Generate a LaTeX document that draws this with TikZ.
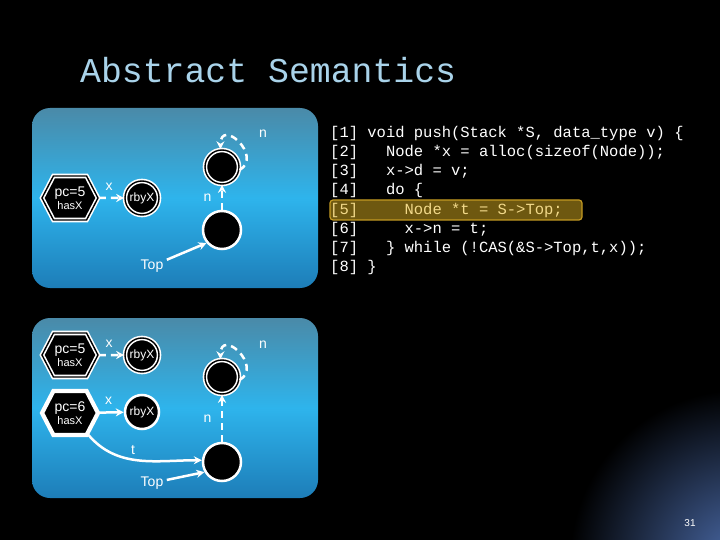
\documentclass[tikz,border=0pt]{standalone}
\usepackage{fontspec}
\setmonofont{Liberation Mono}
\setsansfont{Liberation Sans}
\usetikzlibrary{shapes.geometric,shapes.symbols,arrows.meta}
\definecolor{ptop}{HTML}{4A8AA8}
\definecolor{pmid}{HTML}{2EB4EC}
\definecolor{pbot}{HTML}{1D7DB8}
\definecolor{hlfill}{HTML}{6E5810}
\definecolor{hldraw}{HTML}{C49A22}
\definecolor{hltext}{HTML}{F2D98A}
\definecolor{titlec}{HTML}{A9D3EA}
\definecolor{glow}{HTML}{4A6AA8}
\begin{document}
\begin{tikzpicture}[x=1pt,y=-1pt,
  panel/.style={rounded corners=18pt,top color=ptop,bottom color=pbot,middle color=pmid},
  hexa/.style={signal,signal to=east and west,signal pointer angle=125,minimum width=56pt,minimum height=44pt,inner sep=0pt,fill=black,draw=white,line width=1.6pt,double=black,double distance=1.4pt,text=white,font=\sffamily\fontsize{14}{14}\selectfont,align=center},
  dnode/.style={circle,minimum size=34pt,inner sep=0pt,fill=black,draw=white,line width=1.6pt,double=black,double distance=1.4pt,text=white,font=\sffamily\fontsize{12}{12}\selectfont},
  snode/.style={circle,minimum size=38pt,inner sep=0pt,fill=black,draw=white,line width=2.5pt,text=white,font=\sffamily\fontsize{12}{12}\selectfont},
  lab/.style={text=white,font=\sffamily\fontsize{14}{14}\selectfont},
  dedge/.style={draw=white,line width=2.5pt,dashed,dash pattern=on 7pt off 5pt,-{Stealth[length=8pt,width=8pt]}},
  sedge/.style={draw=white,line width=2.5pt,-{Stealth[length=8pt,width=8pt]}},
  code/.style={anchor=west,text=white,font=\ttfamily\fontsize{15.5}{18}\selectfont,inner sep=0pt}]
\useasboundingbox (0,0) rectangle (720,540);
\fill[black] (0,0) rectangle (720,540);
\begin{scope}
\clip (0,0) rectangle (720,540);
\shade[inner color=glow,outer color=black] (740,560) circle (170);
\end{scope}
\node[text=titlec,font=\ttfamily\fontsize{34.8}{40}\selectfont,anchor=west,inner sep=0pt] (title) at (80,70) {Abstract Semantics};
% panels
\fill[panel] (32,108) rectangle (318,288);
\fill[panel] (32,318) rectangle (318,498);
% top panel
\node[hexa] (h1) at (70,198) {pc=5\\[-1pt]{\fontsize{11}{11}\selectfont hasX}};
\node[dnode] (r1) at (142,198) {rbyX};
\node[dnode] (u1) at (222,167) {};
\node[snode] (l1) at (222,230) {};
\node[lab] (top1) at (152,266) {Top};
\draw[dedge] (h1) -- node[lab,above=3pt,pos=0.4]{x} (r1);
\draw[dedge] (u1.-10) .. controls +(24,-14) and +(0,-32) .. (u1.95);
\node[lab] (nl1) at (263,134) {n};
\draw[dedge] (l1) -- node[lab,left,xshift=-6pt]{n} (u1);
\draw[sedge] (top1) -- (l1.-140);
% bottom panel
\node[hexa] (h2) at (70,355) {pc=5\\[-1pt]{\fontsize{11}{11}\selectfont hasX}};
\node[dnode] (r2) at (142,355) {rbyX};
\node[hexa,double=white,line width=1.6pt,double distance=1pt] (h3) at (70,413) {pc=6\\[-1pt]{\fontsize{11}{11}\selectfont hasX}};
\node[snode,minimum size=34pt] (r3) at (142,412) {rbyX};
\node[dnode] (u2) at (222,377) {};
\node[snode] (l2) at (222,462) {};
\node[lab] (top2) at (152,483) {Top};
\draw[dedge] (h2) -- node[lab,above=3pt,pos=0.4]{x} (r2);
\draw[sedge] (h3) -- node[lab,above=3pt,pos=0.4]{x} (r3);
\draw[dedge] (u2.-10) .. controls +(24,-14) and +(0,-32) .. (u2.95);
\node[lab] (nl2) at (263,345) {n};
\draw[dedge] (l2) -- node[lab,left,xshift=-6pt]{n} (u2);
\draw[sedge] (h3.-50) to[out=-50,in=180] node[lab,above,pos=0.45]{t} (l2.175);
\draw[sedge] (top2) -- (l2.-150);
% code
\draw[hldraw,fill=hlfill,line width=1.2pt,rounded corners=3pt] (330,200) rectangle (582,220);
\node[code] (c1) at (330,133) {[1] void push(Stack *S, data\_type v) \{};
\node[code] (c2) at (330,152) {[2]~~~Node *x = alloc(sizeof(Node));};
\node[code] (c3) at (330,171) {[3]~~~x->d = v;};
\node[code] (c4) at (330,190) {[4]~~~do \{};
\node[code,text=hltext] (c5) at (330,210) {[5]~~~~~Node *t = S->Top;};
\node[code] (c6) at (330,229) {[6]~~~~~x->n = t;};
\node[code] (c7) at (330,248) {[7]~~~\} while (!CAS(\&S->Top,t,x));};
\node[code] (c8) at (330,267) {[8] \}};
\node[text=white,font=\sffamily\fontsize{10}{10}\selectfont] (pg) at (690,523) {31};
\end{tikzpicture}
\end{document}
